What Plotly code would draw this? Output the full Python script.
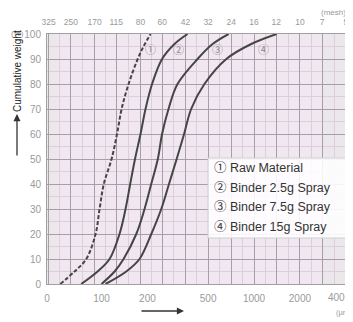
import math
import plotly.graph_objects as go

# ---------------- data (particle size in µm, cumulative weight %) ----------------
raw_size = [53.6, 66.5, 79.4, 91.4, 97.1, 103.5, 116.4, 126.4, 135.4, 150.5, 172.7, 188.6, 209.8]
raw_pct = [0, 5, 10, 20, 30, 40, 50, 60, 70, 80, 90, 95, 100]

b25_size = [73.6, 94.2, 112.9, 131.2, 143.7, 154.2, 165.8, 180.2, 194.3, 214.5, 249.5, 301, 367]
b25_pct = [0, 5, 10, 20, 30, 40, 50, 60, 70, 80, 90, 96, 100]

b75_size = [100, 121.8, 139.5, 169, 191.5, 211.8, 234, 249.5, 275, 315, 426, 535, 681]
b75_pct = [0, 5, 10, 20, 30, 40, 50, 60, 70, 80, 90, 96, 100]

b15_size = [106.3, 145.3, 177.6, 212, 246.5, 277, 311, 348, 387, 473, 658, 959, 1406]
b15_pct = [0, 5, 10, 20, 30, 40, 50, 60, 70, 80, 90, 96, 100]

series_names = ["① Raw Material", "② Binder 2.5g Spray", "③ Binder 7.5g Spray", "④ Binder 15g Spray"]
curve_marks = ["①", "②", "③", "④"]

mesh_labels = ["325", "250", "170", "115", "80", "60", "42", "32", "24", "16", "12", "10", "7", "5"]
mesh_um = [45, 63, 90, 125, 180, 250, 355, 500, 710, 1000, 1400, 2000, 2800, 4000]

um_ticks = [44, 100, 200, 500, 1000, 2000, 4000]
um_labels = ["0", "100", "200", "500", "1000", "2000", "4000"]

y_ticks = list(range(0, 101, 10))

# ---------------- layout helpers ----------------
OFF = 8                      # page body margin of the html page
W, H = 353 - OFF, 322 - OFF
L, R, T, B = 47 - OFF, 7, 34 - OFF, 38
PW, PH = W - L - R, H - T - B


def px(x):
    return (x - OFF - L) / PW


def py(y):
    return (T + PH - (y - OFF)) / PH


BG = "#f1e7f0"
BAND = "#ebe7ea"
GRID = "#ab9ca9"
MINOR = "#dccfd9"
LINE = "#454545"
TICK = "#9a9a9a"
FONT = "Liberation Sans, Arial, Noto Sans CJK JP, sans-serif"

minor_um = [math.sqrt(a * b) for a, b in zip(mesh_um[:-1], mesh_um[1:])]
xr = [math.log10(43.9), math.log10(4010)]

fig = go.Figure()

styles = [dict(dash="4px,2px"), dict(dash="solid"), dict(dash="solid"), dict(dash="solid")]
for (xs, ys), name, st in zip(
    [(raw_size, raw_pct), (b25_size, b25_pct), (b75_size, b75_pct), (b15_size, b15_pct)],
    series_names, styles,
):
    fig.add_trace(go.Scatter(
        x=xs, y=ys, mode="lines", name=name, showlegend=False,
        line=dict(color=LINE, width=2, shape="spline", smoothing=1.0, **st),
        hoverinfo="skip",
    ))

# dummy trace to host the top (mesh) axis
fig.add_trace(go.Scatter(x=[mesh_um[0], mesh_um[-1]], y=[-50, -50], xaxis="x2", mode="markers",
                         marker=dict(opacity=0), showlegend=False, hoverinfo="skip"))

fig.update_layout(
    width=W, height=H,
    margin=dict(l=L, r=R, t=T, b=B, autoexpand=False),
    paper_bgcolor="white", plot_bgcolor=BG,
    font=dict(family=FONT, color=TICK, size=9),
    xaxis=dict(
        type="log", range=xr, tickmode="array", tickvals=um_ticks[:-1], ticktext=um_labels[:-1],
        showgrid=False, zeroline=False, showline=True, linecolor="#a0a0a0", linewidth=1, mirror=True,
        ticks="", tickfont=dict(size=10, color=TICK), ticklabelstandoff=5,
        ticklabeloverflow="allow",
    ),
    xaxis2=dict(
        type="log", range=xr, overlaying="x", side="top", anchor="y",
        tickmode="array", tickvals=mesh_um, ticktext=mesh_labels,
        showgrid=True, gridcolor=GRID, gridwidth=1, zeroline=False, showline=False,
        ticks="", tickfont=dict(size=8.5, color=TICK), ticklabelstandoff=6,
        ticklabeloverflow="allow",
        minor=dict(tickvals=minor_um, showgrid=True, gridcolor=MINOR, gridwidth=1, ticks=""),
    ),
    yaxis=dict(
        range=[0, 100], tickmode="array", tickvals=y_ticks,
        showgrid=True, gridcolor=GRID, gridwidth=1, zeroline=False,
        showline=True, linecolor="#a0a0a0", linewidth=1, mirror=True,
        ticks="", tickfont=dict(size=10, color=TICK), ticklabelstandoff=3,
        minor=dict(dtick=5, showgrid=True, gridcolor=MINOR, gridwidth=1, ticks=""),
    ),
)

# last bottom tick label, kept inside the page edge
fig.add_annotation(xref="paper", yref="paper", x=px(352.5), y=py(297), text=um_labels[-1],
                   xanchor="right", yanchor="middle", showarrow=False,
                   font=dict(size=10, color=TICK))

# lighter bands at both ends of the grid
for x0, x1 in [(47, 57), (323, 346)]:
    fig.add_shape(type="rect", xref="paper", yref="paper", x0=px(x0), x1=px(x1), y0=0, y1=1,
                  fillcolor=BAND, line=dict(width=0), layer="below")

# legend box
fig.add_shape(type="rect", xref="paper", yref="paper",
              x0=px(208), x1=px(346), y0=py(238), y1=py(158),
              fillcolor="rgba(255,255,255,0.88)", line=dict(color="#cfcfcf", width=1), layer="above")
for i, name in enumerate(series_names):
    fig.add_annotation(xref="paper", yref="paper", x=px(212), y=py(168 + 19.7 * i),
                       xanchor="left", yanchor="middle", text=name, showarrow=False,
                       font=dict(family=FONT, size=12.5, color="#333333"))

# circled curve markers
for mark, xpix in zip(curve_marks, [150, 178, 217, 263]):
    fig.add_annotation(xref="paper", yref="paper", x=px(xpix), y=py(50), text=mark,
                       xanchor="center", yanchor="middle",
                       showarrow=False, font=dict(family=FONT, size=11, color="#8a8a8a"))

# unit labels
fig.add_annotation(xref="paper", yref="paper", x=px(26), y=py(33), text="(%)",
                   xanchor="right", yanchor="middle",
                   showarrow=False, font=dict(size=8, color=TICK))
fig.add_annotation(xref="paper", yref="paper", x=px(333), y=py(12.5), text="(mesh)",
                   xanchor="center", yanchor="middle",
                   showarrow=False, font=dict(size=8, color=TICK))
fig.add_annotation(xref="paper", yref="paper", x=px(334), y=py(312), text="(µm)",
                   xanchor="left", yanchor="middle",
                   showarrow=False, font=dict(size=7.5, color=TICK))

# axis title with arrows
fig.add_annotation(xref="paper", yref="paper", x=px(17), y=py(71), text="Cumulative weight",
                   xanchor="center", yanchor="middle",
                   textangle=-90, showarrow=False, font=dict(size=10, color="#222222"))
fig.add_annotation(xref="paper", yref="paper", x=px(17), y=py(114), text="", showarrow=True,
                   ax=0, ay=43, arrowhead=2, arrowsize=1.1, arrowwidth=1.3, arrowcolor="#333333")
fig.add_annotation(xref="paper", yref="paper", x=px(184), y=py(311), text="", showarrow=True,
                   ax=-44, ay=0, arrowhead=2, arrowsize=1.1, arrowwidth=1.3, arrowcolor="#333333")

fig.write_html("out.html")
